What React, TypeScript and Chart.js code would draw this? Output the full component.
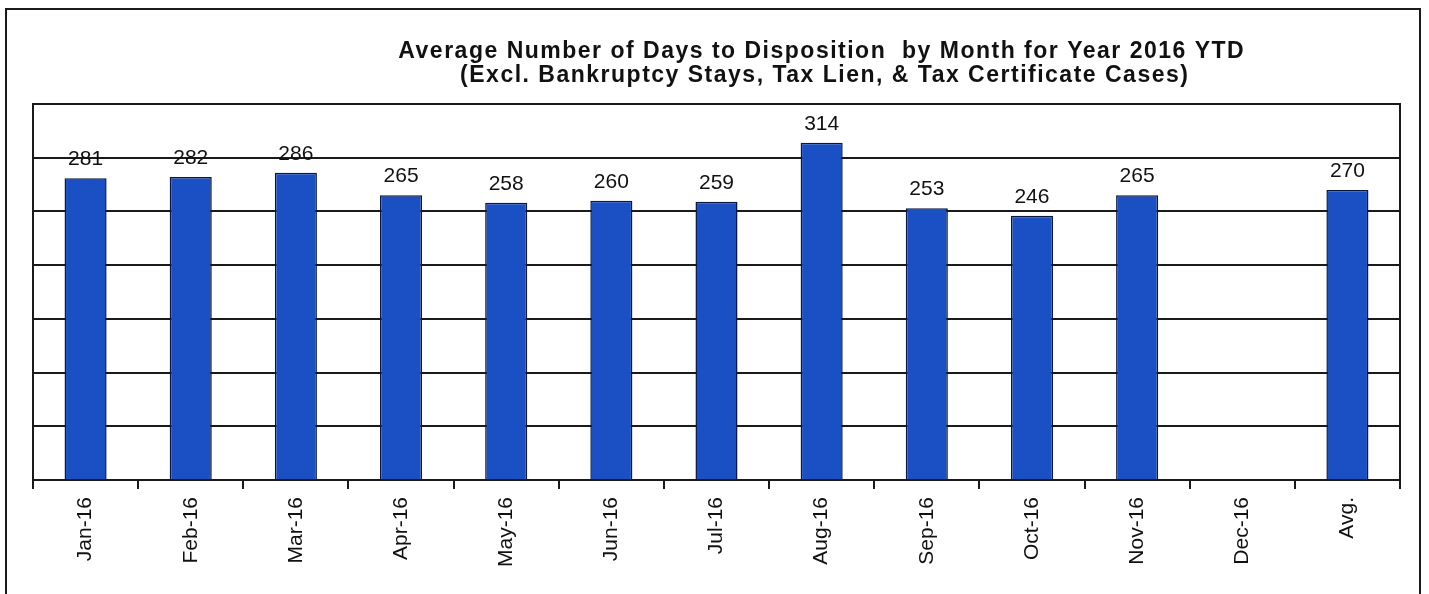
import React, { useEffect, useRef } from "react";
import { Chart, registerables } from "chart.js";

Chart.register(...registerables);

const categories = [
  "Jan-16", "Feb-16", "Mar-16", "Apr-16", "May-16", "Jun-16", "Jul-16",
  "Aug-16", "Sep-16", "Oct-16", "Nov-16", "Dec-16", "Avg.",
];
const avgDays: (number | null)[] = [281, 282, 286, 265, 258, 260, 259, 314, 253, 246, 265, null, 270];
const titleLines = [
  "Average Number of Days to Disposition  by Month for Year 2016 YTD",
  "(Excl. Bankruptcy Stays, Tax Lien, & Tax Certificate Cases)",
];
const yMin = 0;
const yMax = 350;
const yStep = 50;

const FONT = "'Liberation Sans', Arial, Helvetica, sans-serif";

const decorPlugin = {
  id: "decor",
  afterDraw(chart: any) {
    const { ctx, chartArea } = chart;
    ctx.save();
    // plot frame
    ctx.strokeStyle = "#1a1a1a";
    ctx.lineWidth = 2;
    ctx.strokeRect(chartArea.left, chartArea.top, chartArea.right - chartArea.left, chartArea.bottom - chartArea.top);
    // outer frame
    ctx.strokeRect(6, 9, chart.width - 15, chart.height + 20);
    // value labels
    ctx.fillStyle = "#111";
    ctx.font = `21px ${FONT}`;
    ctx.textAlign = "center";
    ctx.textBaseline = "alphabetic";
    const meta = chart.getDatasetMeta(0);
    meta.data.forEach((bar: any, i: number) => {
      const v = avgDays[i];
      if (v == null) return;
      ctx.fillText(String(v), bar.x, bar.y - 13);
    });
    // title
    ctx.font = `bold 23px ${FONT}`;
    (ctx as any).letterSpacing = "1.5px";
    const cx = chartArea.left + (chartArea.right - chartArea.left) * 0.577;
    ctx.fillText(titleLines[0], cx, 58);
    ctx.fillText(titleLines[1], cx + 3, 82);
    (ctx as any).letterSpacing = "0px";
    ctx.restore();
  },
};

export default function App() {
  const ref = useRef<HTMLCanvasElement | null>(null);
  useEffect(() => {
    if (!ref.current) return;
    const chart = new Chart(ref.current, {
      type: "bar",
      data: {
        labels: categories,
        datasets: [
          {
            label: "Average days",
            data: avgDays,
            backgroundColor: "#1a50c4",
            borderColor: "#0b1640",
            borderWidth: 1.5,
            barPercentage: 0.4,
            categoryPercentage: 1,
          },
        ],
      },
      options: {
        responsive: false,
        animation: false,
        layout: { padding: { left: 33, right: 29, top: 104, bottom: 0 } },
        plugins: {
          legend: { display: false },
          tooltip: { enabled: false },
          title: { display: false },
        },
        scales: {
          x: {
            grid: {
              display: true,
              drawOnChartArea: false,
              drawTicks: true,
              tickLength: 9,
              color: "#1a1a1a",
              lineWidth: 2,
              offset: true,
            },
            border: { display: true, color: "#1a1a1a", width: 2 },
            ticks: {
              autoSkip: false,
              maxRotation: 90,
              minRotation: 90,
              padding: 8,
              color: "#111",
              font: { family: FONT, size: 21 },
            },
            afterFit: (a: any) => {
              a.height = 114;
            },
          },
          y: {
            min: yMin,
            max: yMax,
            ticks: { stepSize: yStep, display: false },
            grid: { color: "#1a1a1a", lineWidth: 2, drawTicks: false },
            border: { display: false },
            afterFit: (a: any) => {
              a.width = 0;
            },
          },
        },
      },
      plugins: [decorPlugin],
    });
    return () => chart.destroy();
  }, []);
  return (
    <div style={{ position: "absolute", left: 0, top: 0, width: 1429, height: 594, background: "#fff" }}>
      <canvas ref={ref} width={1429} height={594} />
    </div>
  );
}
